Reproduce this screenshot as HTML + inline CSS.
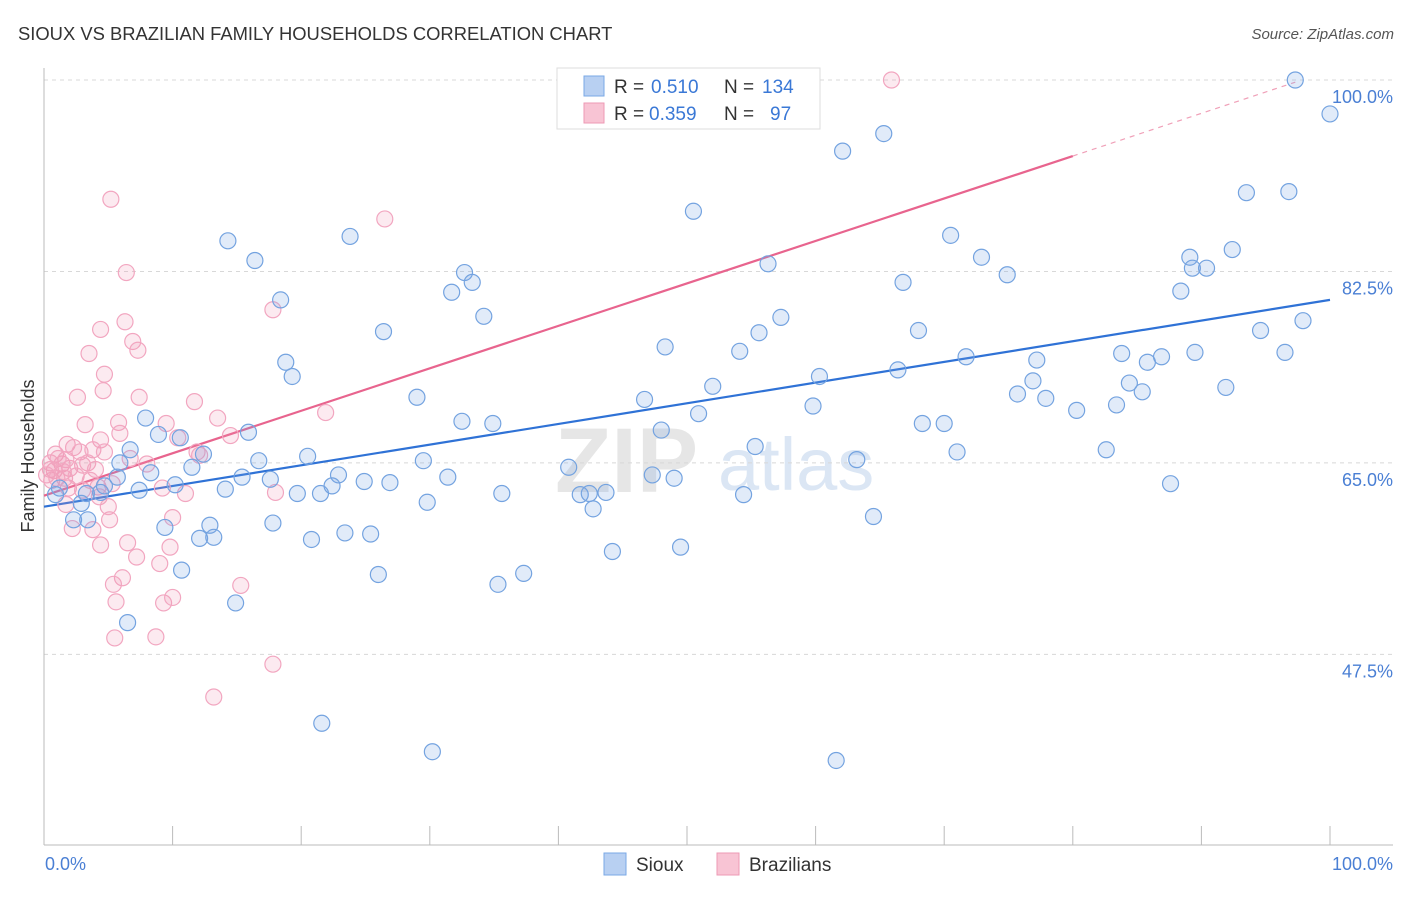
<!DOCTYPE html>
<html><head><meta charset="utf-8"><style>
body{margin:0;background:#fff;font-family:"Liberation Sans",sans-serif;}
svg text{font-family:"Liberation Sans",sans-serif;}
</style></head><body>
<svg id="chart" width="1406" height="892" xmlns="http://www.w3.org/2000/svg">
<text x="18" y="40" font-size="18.4" fill="#333">SIOUX VS BRAZILIAN FAMILY HOUSEHOLDS CORRELATION CHART</text>
<text x="1394" y="39" font-size="15" fill="#555" text-anchor="end" font-style="italic">Source: ZipAtlas.com</text>
<text x="555" y="492" font-size="92" fill="#e6e6e6" font-family="Liberation Serif" font-weight="bold">ZIP</text>
<text x="718" y="490" font-size="74" fill="#dbe6f4">atlas</text>
<g id="grid"></g>
<g id="axes"></g>
<g id="lines"></g>
<g id="pts"></g>
<text transform="translate(34,456) rotate(-90)" font-size="18" fill="#333" text-anchor="middle">Family Households</text>
<text x="45" y="870" font-size="18" fill="#4a7fd4">0.0%</text>
<text x="1393" y="870" font-size="18" fill="#4a7fd4" text-anchor="end">100.0%</text>
<g>
<rect x="557" y="68" width="263" height="61" fill="#fff" stroke="#ddd"/>
<rect x="584" y="76" width="20" height="20" fill="#b8d0f2" stroke="#7aa8e6"/>
<text x="614" y="93" font-size="19" fill="#333">R =</text>
<text x="651" y="93" font-size="19" fill="#3a78d6">0.510</text>
<text x="724" y="93" font-size="19" fill="#333">N =</text>
<text x="762" y="93" font-size="19" fill="#3a78d6">134</text>
<rect x="584" y="103" width="20" height="20" fill="#f8c4d4" stroke="#ee9ab4"/>
<text x="614" y="120" font-size="19" fill="#333">R =</text>
<text x="649" y="120" font-size="19" fill="#3a78d6">0.359</text>
<text x="724" y="120" font-size="19" fill="#333">N =</text>
<text x="770" y="120" font-size="19" fill="#3a78d6">97</text>
</g>
<g><rect x="604" y="853" width="22" height="22" fill="#b8d0f2" stroke="#7aa8e6"/><text x="636" y="871" font-size="19" fill="#333">Sioux</text></g>
<g><rect x="717" y="853" width="22" height="22" fill="#f8c4d4" stroke="#ee9ab4"/><text x="749" y="871" font-size="19" fill="#333">Brazilians</text></g>
</svg>
<script>
const yTicks=[100,82.5,65,47.5];
const siouxX=[97.3,100,65.3,62.1,93.5,96.8,50.5,14.3,23.8,16.4,70.5,92.4,72.9,89.1,89.3,90.4,56.3,32.7,31.7,33.3,74.9,66.8,88.4,18.4,34.2,57.3,55.6,26.4,68.0,94.6,97.9,48.3,54.1,18.8,19.3,83.8,89.5,96.5,71.7,77.2,85.8,86.9,66.4,60.3,76.9,84.4,91.9,52.0,29.0,75.7,77.9,85.4,46.7,59.8,83.4,80.3,7.9,32.5,34.9,50.9,68.3,70.0,48.0,8.9,15.9,10.6,82.6,71.0,55.3,12.4,6.7,20.5,16.7,29.5,63.2,5.9,40.8,8.3,11.5,17.6,15.4,22.9,26.9,31.4,24.9,22.4,19.7,21.5,14.1,10.2,7.4,4.7,4.4,5.7,3.3,35.6,41.7,42.4,43.7,47.3,49.0,54.4,29.8,42.7,2.9,87.6,64.5,3.4,2.3,9.4,12.9,17.8,12.1,13.2,20.8,23.4,25.4,44.2,49.5,10.7,26.0,37.3,35.3,14.9,6.5,21.6,30.2,61.6,0.9,1.2];
const siouxY=[100,96.9,95.1,93.5,89.7,89.8,88.0,85.3,85.7,83.5,85.8,84.5,83.8,83.8,82.8,82.8,83.2,82.4,80.6,81.5,82.2,81.5,80.7,79.9,78.4,78.3,76.9,77.0,77.1,77.1,78.0,75.6,75.2,74.2,72.9,75.0,75.1,75.1,74.7,74.4,74.2,74.7,73.5,72.9,72.5,72.3,71.9,72.0,71.0,71.3,70.9,71.5,70.8,70.2,70.3,69.8,69.1,68.8,68.6,69.5,68.6,68.6,68.0,67.6,67.8,67.3,66.2,66.0,66.5,65.8,66.2,65.6,65.2,65.2,65.3,65.0,64.6,64.1,64.6,63.5,63.7,63.9,63.2,63.7,63.3,62.9,62.2,62.2,62.6,63.0,62.5,62.9,62.3,63.7,62.2,62.2,62.1,62.2,62.3,63.9,63.6,62.1,61.4,60.8,61.3,63.1,60.1,59.8,59.8,59.1,59.3,59.5,58.1,58.2,58.0,58.6,58.5,56.9,57.3,55.2,54.8,54.9,53.9,52.2,50.4,41.2,38.6,37.8,62.1,62.7];
const brazX=[65.9,5.2,26.5,6.4,17.8,4.4,6.3,3.5,6.9,7.3,4.7,4.6,7.4,2.6,11.7,3.2,5.8,13.5,9.5,21.9,5.9,14.5,4.4,10.4,1.8,2.3,2.8,3.8,0.9,4.7,11.9,12.1,1.4,3.4,0.5,0.8,2.0,3.0,4.0,6.7,8.0,1.6,0.6,1.9,3.0,4.2,5.3,9.2,11.0,18.0,2.2,3.8,5.1,4.4,6.5,9.8,7.2,9.0,6.1,5.4,15.3,5.6,9.3,10.0,5.5,8.7,17.8,13.2,1.7,1.1,0.5,0.2,1.0,1.5,2.5,3.6,4.3,10.0,1.7,5.0];
const brazY=[100,89.1,87.3,82.4,79.0,77.2,77.9,75.0,76.1,75.3,73.1,71.6,71.0,71.0,70.6,68.5,68.7,69.1,68.6,69.6,67.7,67.5,67.1,67.3,66.7,66.4,66.0,66.2,65.8,66.0,66.0,65.7,64.9,65.0,65.0,64.3,64.5,64.8,64.4,65.4,64.9,63.6,63.4,62.7,62.5,62.8,63.1,62.7,62.2,62.3,59.0,58.9,59.8,57.5,57.7,57.3,56.4,55.8,54.5,53.9,53.8,52.3,52.2,52.7,49.0,49.1,46.6,43.6,65.3,65.4,64.4,63.9,63.6,64.2,63.8,63.4,61.9,60.0,61.2,61.0];
const siouxFit=[61.0,79.9];
const brazFit=[62.0,93.05,80,99.8,97.3];
const NS="http://www.w3.org/2000/svg";
const X=v=>44+v*12.86;
const Y=v=>80+(100-v)*10.94;
function mk(tag,at,parent){const e=document.createElementNS(NS,tag);for(const k in at)e.setAttribute(k,at[k]);document.getElementById(parent).appendChild(e);return e;}
yTicks.forEach((t,i)=>{
 const l=mk('line',{x1:44,x2:1393,y1:Y(t),y2:Y(t),stroke:'#d8d8d8','stroke-dasharray':'4,4'},'grid');
 
 
 const tx=mk('text',{x:1393,y:Y(t)+23,'font-size':18,fill:'#4a7fd4','text-anchor':'end'},'grid');
 tx.textContent=t.toFixed(1)+'%';
 
 
});
const ya=mk('line',{x1:44,x2:44,y1:68,y2:845,stroke:'#bbb'},'axes');


const xa=mk('line',{x1:44,x2:1393,y1:845,y2:845,stroke:'#bbb'},'axes');


for(let i=0;i<=10;i++){const t=mk('line',{x1:X(i*10),x2:X(i*10),y1:826,y2:845,stroke:'#bbb'},'axes');
 
 }
function dots(xs,ys,fill,stroke,name){xs.forEach((x,i)=>{const c=mk('circle',{cx:X(x),cy:Y(ys[i]),r:8,fill:fill,stroke:stroke,'stroke-width':1.2},'pts');
 
 });}
dots(brazX,brazY,'rgba(242,150,182,0.2)','#f2a6c0','brazilians-point');
dots(siouxX,siouxY,'rgba(120,165,228,0.22)','#74a3e0','sioux-point');
const bl=mk('line',{x1:X(0),y1:Y(siouxFit[0]),x2:X(100),y2:Y(siouxFit[1]),stroke:'#2f72d6','stroke-width':2.2},'lines');


const pl=mk('line',{x1:X(0),y1:Y(brazFit[0]),x2:X(brazFit[2]),y2:Y(brazFit[1]),stroke:'#e8648e','stroke-width':2.2},'lines');


const pd=mk('line',{x1:X(brazFit[2]),y1:Y(brazFit[1]),x2:X(brazFit[4]),y2:Y(brazFit[3]),stroke:'#f0a0b8','stroke-width':1.2,'stroke-dasharray':'5,5'},'lines');


</script>
</body></html>
